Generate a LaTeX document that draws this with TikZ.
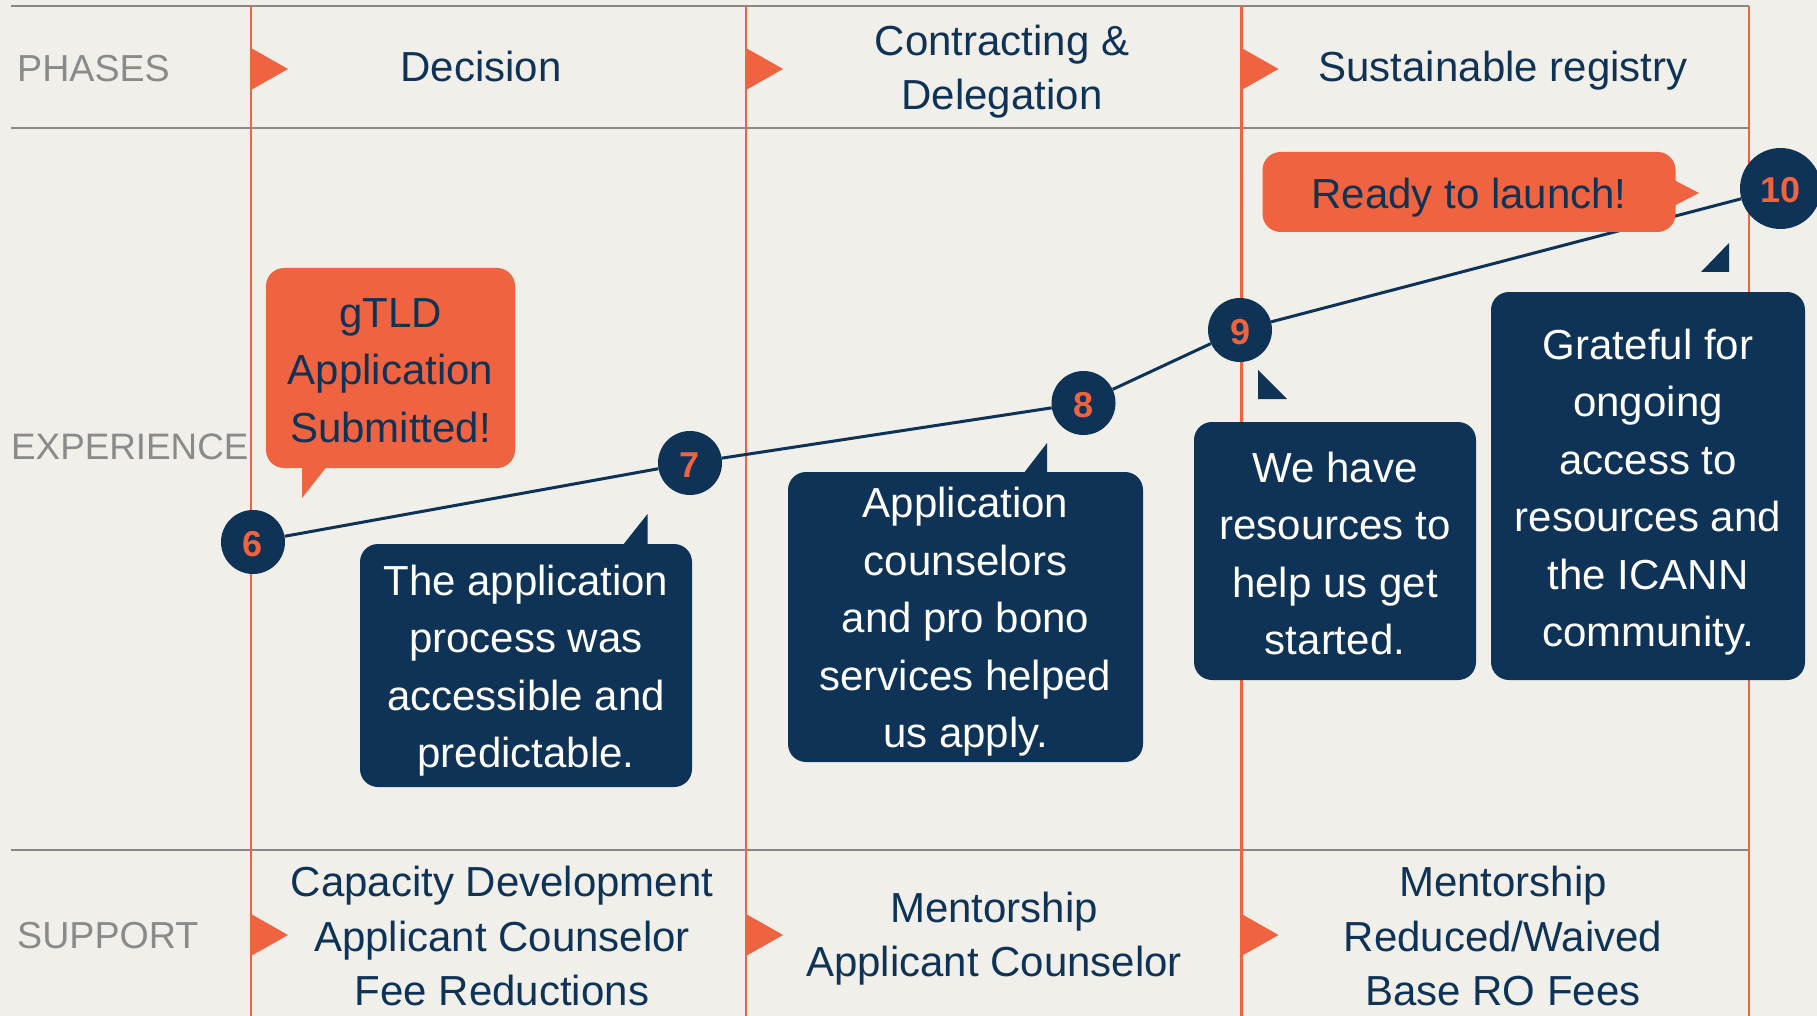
\documentclass[tikz,border=0pt]{standalone}
\usepackage{fontspec}
\setmainfont{Liberation Sans}
\definecolor{bgc}{HTML}{F0EFEA}
\definecolor{navy}{HTML}{0E3356}
\definecolor{orng}{HTML}{F06340}
\definecolor{grayline}{HTML}{888888}
\definecolor{graytext}{HTML}{8A8A8A}
\tikzset{
  f42/.style={font=\fontsize{42}{57.5}\selectfont},
  lbl/.style={font=\fontsize{37.6}{44}\selectfont, text=graytext, anchor=base west, inner sep=0},
  phase/.style={f42, text=navy, anchor=base, inner sep=0},
  supp/.style={font=\fontsize{42}{54.5}\selectfont, text=navy, align=center, inner sep=0},
  navybox/.style={fill=navy, rounded corners=18pt, inner sep=0},
  orbox/.style={fill=orng, rounded corners=18pt, inner sep=0},
  wtext/.style={text=white, f42, align=center, inner sep=0},
  ntext/.style={text=navy, f42, align=center, inner sep=0},
  numc/.style={circle, fill=navy, text=orng, font=\fontsize{36}{40}\bfseries\selectfont, minimum size=64pt, inner sep=0, text height=29pt, text depth=0pt},
  sepline/.style={draw=grayline, line width=2.8pt},
  vline/.style={draw=orng, line width=2.6pt},
  arr/.style={fill=orng},
  path6/.style={draw=navy, line width=3pt},
}
\begin{document}
\begin{tikzpicture}[x=1pt,y=-1pt]
\fill[bgc] (0,0) rectangle (1817,1016);
\useasboundingbox (0,0) rectangle (1817,1016);
% horizontal separators
\draw[sepline] (11,6) -- (1749,6);
\draw[sepline] (11,128) -- (1749,128);
\draw[sepline] (11,850) -- (1749,850);
% vertical lines
\foreach \xx in {251,746,1241.5,1749}{\draw[vline] (\xx,6) -- (\xx,1016);}
% phase arrows
\foreach \xx in {251,746,1241.5}{
  \fill[arr] (\xx,48) -- (\xx+37,69) -- (\xx,90) -- cycle;
  \fill[arr] (\xx,914) -- (\xx+37,935) -- (\xx,956) -- cycle;
}
% row labels
\node[lbl] (lp) at (17,82) {PHASES};
\node[lbl, font=\fontsize{36.8}{44}\selectfont] (le) at (11,459) {EXPERIENCE};
\node[lbl] (ls) at (17,948) {SUPPORT};
% phase names
\node[phase] (p1) at (481,82) {Decision};
\node[phase] (p2a) at (1002,55.5) {Contracting \&};
\node[phase] (p2b) at (1002,110) {Delegation};
\node[phase] (p3) at (1503,82) {Sustainable registry};
% support
\node[supp] (s1) at (502,936) {Capacity Development\\Applicant Counselor\\Fee Reductions};
\node[supp] (s2) at (994,938.5) {Mentorship\\Applicant Counselor};
\node[supp] (s3) at (1503,936) {Mentorship\\Reduced/Waived\\Base RO Fees};
% numbered points
\node[numc] (n6) at (253,542) {6};
\node[numc] (n7) at (690,463) {7};
\node[numc] (n8) at (1083.5,403) {8};
\node[numc] (n9) at (1240,330) {9};
\node[numc, minimum size=81pt] (n10) at (1780.5,188.5) {10};
\draw[path6] (n6) -- (n7) -- (n8) -- (n9) -- (n10);
% orange bubbles
\node[orbox, minimum width=249pt, minimum height=200pt] (bg) at (390.5,368) {};
\node[ntext] (tg) at ([yshift=-2.5pt]bg.center) {gTLD\\Application\\Submitted!};
\fill[orng] (302,460) -- (332,460) -- (302,498) -- cycle;
\node[orbox, minimum width=413pt, minimum height=80pt] (br) at (1469,192) {};
\node[ntext] (tr) at ([yshift=-5.5pt]br.center) {Ready to launch!};
\fill[orng] (1670,178) -- (1699,193) -- (1670,208) -- cycle;
% navy bubbles
\node[navybox, minimum width=332pt, minimum height=243pt] (b7) at (526,665.5) {};
\node[wtext] (t7) at ([yshift=-5pt]b7.center) {The application\\process was\\accessible and\\predictable.};
\fill[navy] (619,550) -- (647.5,514) -- (647.5,550) -- cycle;
\node[navybox, minimum width=355pt, minimum height=290pt] (b8) at (965.5,617) {};
\node[wtext] (t8) at ([yshift=-5pt]b8.center) {Application\\counselors\\and pro bono\\services helped\\us apply.};
\fill[navy] (1020,478) -- (1047,443) -- (1047,478) -- cycle;
\node[navybox, minimum width=282pt, minimum height=258pt] (b9) at (1335,551) {};
\node[wtext] (t9) at ([yshift=-2.5pt]b9.center) {We have\\resources to\\help us get\\started.};
\fill[navy] (1258,370) -- (1258,399) -- (1287,399) -- cycle;
\node[navybox, minimum width=314pt, minimum height=388pt] (b10) at (1648,486) {};
\node[wtext] (t10) at ([yshift=-6pt]b10.center) {Grateful for\\ongoing\\access to\\resources and\\the ICANN\\community.};
\fill[navy] (1729,243) -- (1701,272) -- (1729,272) -- cycle;
\end{tikzpicture}
\end{document}
